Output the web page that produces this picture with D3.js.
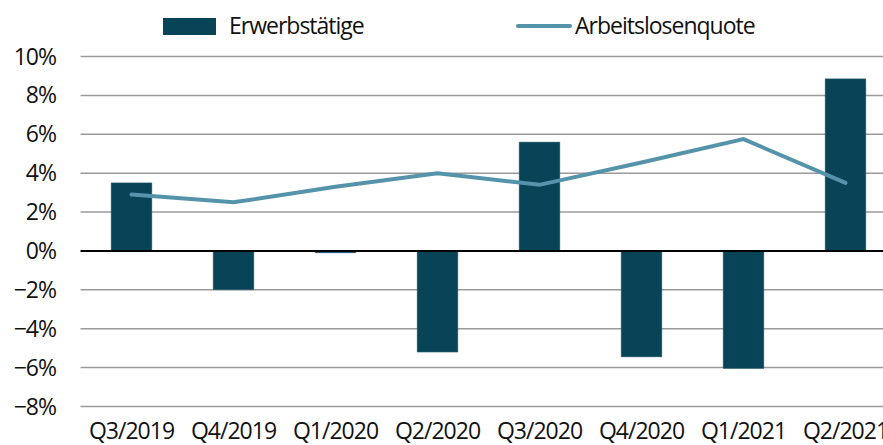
<!DOCTYPE html>
<html>
<head>
<meta charset="utf-8">
<script src="https://cdn.jsdelivr.net/npm/d3@7"></script>
<style>
    body { margin: 0; background: #fff; }
    svg text { font-family: "Open Sans", sans-serif; fill: #111; letter-spacing: -1px; }
</style>
</head>
<body>
<svg id="chart" width="883" height="445"></svg>
<script>
const quarters = ["Q3/2019", "Q4/2019", "Q1/2020", "Q2/2020", "Q3/2020", "Q4/2020", "Q1/2021", "Q2/2021"];
const erwerbstaetige = [3.5, -2.0, -0.1, -5.2, 5.6, -5.45, -6.05, 8.85];
const arbeitslosenquote = [2.9, 2.5, 3.3, 4.0, 3.4, 4.55, 5.75, 3.5];
const yTicks = [-8, -6, -4, -2, 0, 2, 4, 6, 8, 10];

const barColor = "#084458";
const lineColor = "#5593aa";

const svg = d3.select("#chart");

const x = d3.scaleBand()
    .domain(quarters)
    .range([80.5, 896.5])
    .paddingInner(0.6)
    .paddingOuter(0.3);

const y = d3.scaleLinear()
    .domain([-8, 10])
    .range([406.5, 56.5]);

// gridlines
svg.append("g")
    .selectAll("line")
    .data(yTicks.filter(d => d !== 0))
    .enter().append("line")
    .attr("x1", 80.5)
    .attr("x2", 883)
    .attr("y1", d => y(d))
    .attr("y2", d => y(d))
    .style("stroke", "#9a9a9a")
    .style("stroke-width", "1.5px");

// y labels
svg.append("g")
    .selectAll("text")
    .data(yTicks)
    .enter().append("text")
    .attr("x", 56)
    .attr("y", d => y(d))
    .attr("dy", "0.35em")
    .attr("text-anchor", "end")
    .style("font-size", "23px")
    .text(d => (d < 0 ? "\u2212" + Math.abs(d) : d) + "%");

// bars
svg.append("g")
    .selectAll("rect")
    .data(erwerbstaetige)
    .enter().append("rect")
    .attr("x", (d, i) => x(quarters[i]))
    .attr("width", x.bandwidth())
    .attr("y", d => y(Math.max(0, d)))
    .attr("height", d => Math.abs(y(d) - y(0)))
    .style("fill", barColor)
    .style("stroke", "#3e6f80")
    .style("stroke-width", "0.5px");

// zero line
svg.append("line")
    .attr("x1", 80.5)
    .attr("x2", 883)
    .attr("y1", y(0))
    .attr("y2", y(0))
    .style("stroke", "#000")
    .style("stroke-width", "2px");

// line series
const line = d3.line()
    .x((d, i) => x(quarters[i]) + x.bandwidth() / 2)
    .y(d => y(d));

svg.append("path")
    .datum(arbeitslosenquote)
    .attr("d", line)
    .style("fill", "none")
    .style("stroke", lineColor)
    .style("stroke-width", "4px")
    .style("stroke-linecap", "round")
    .style("stroke-linejoin", "miter");

// x labels
svg.append("g")
    .selectAll("text")
    .data(quarters)
    .enter().append("text")
    .attr("x", d => x(d) + x.bandwidth() / 2)
    .attr("y", 438.5)
    .attr("text-anchor", "middle")
    .style("font-size", "23px")
    .text(d => d);

// legend
const legend = svg.append("g");
legend.append("rect")
    .attr("x", 163)
    .attr("y", 18)
    .attr("width", 53)
    .attr("height", 17)
    .style("fill", barColor);
legend.append("text")
    .attr("x", 229)
    .attr("y", 26)
    .attr("dy", "0.35em")
    .style("font-size", "23px")
    .text("Erwerbstätige");
legend.append("line")
    .attr("x1", 518)
    .attr("x2", 570)
    .attr("y1", 26)
    .attr("y2", 26)
    .style("stroke", lineColor)
    .style("stroke-width", "4px")
    .style("stroke-linecap", "round");
legend.append("text")
    .attr("x", 575)
    .attr("y", 26)
    .attr("dy", "0.35em")
    .style("font-size", "23px")
    .text("Arbeitslosenquote");
</script>
</body>
</html>
